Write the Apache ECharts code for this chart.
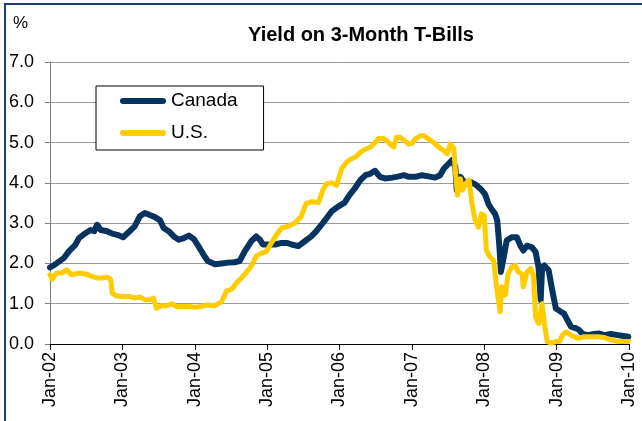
<!DOCTYPE html>
<html>
<head>
<meta charset="utf-8">
<script src="https://cdn.jsdelivr.net/npm/echarts@6/dist/echarts.min.js"></script>
<style>
  html, body { margin: 0; padding: 0; background: #fff; }
  #chart { width: 642px; height: 421px; }
</style>
</head>
<body>
<div id="chart"></div>
<script>
// x tick labels (one per January)
const xTickLabels = ["Jan-02", "Jan-03", "Jan-04", "Jan-05", "Jan-06", "Jan-07", "Jan-08", "Jan-09", "Jan-10"];

// Canada 3-month T-bill yield, dates as decimal years
const canadaDates = [
  2002.00, 2002.09, 2002.19, 2002.26, 2002.35, 2002.40, 2002.49, 2002.56, 2002.61, 2002.65,
  2002.70, 2002.79, 2002.86, 2002.93, 2003.01, 2003.10, 2003.17, 2003.24, 2003.31, 2003.38,
  2003.45, 2003.52, 2003.57, 2003.64, 2003.71, 2003.78, 2003.85, 2003.92, 2003.99, 2004.05,
  2004.12, 2004.18, 2004.28, 2004.37, 2004.46, 2004.55, 2004.62, 2004.69, 2004.78, 2004.85,
  2004.90, 2004.94, 2005.01, 2005.11, 2005.20, 2005.27, 2005.34, 2005.43, 2005.52, 2005.61,
  2005.68, 2005.75, 2005.82, 2005.89, 2005.98, 2006.07, 2006.14, 2006.21, 2006.29, 2006.36,
  2006.43, 2006.49, 2006.56, 2006.63, 2006.73, 2006.82, 2006.89, 2006.96, 2007.05, 2007.14,
  2007.23, 2007.32, 2007.39, 2007.44, 2007.51, 2007.56, 2007.60, 2007.62, 2007.67, 2007.74,
  2007.81, 2007.88, 2007.95, 2008.01, 2008.06, 2008.10, 2008.15, 2008.18, 2008.21, 2008.23,
  2008.27, 2008.31, 2008.38, 2008.45, 2008.50, 2008.54, 2008.59, 2008.66, 2008.71, 2008.75,
  2008.78, 2008.80, 2008.83, 2008.89, 2008.94, 2008.99, 2009.06, 2009.10, 2009.15, 2009.20,
  2009.27, 2009.31, 2009.36, 2009.43, 2009.52, 2009.59, 2009.66, 2009.75, 2009.85, 2009.92,
  2009.99
];
const canadaValues = [
  1.90, 2.00, 2.13, 2.30, 2.46, 2.63, 2.75, 2.83, 2.80, 2.96,
  2.83, 2.80, 2.74, 2.71, 2.65, 2.80, 2.92, 3.17, 3.25, 3.20,
  3.15, 3.07, 2.88, 2.80, 2.67, 2.59, 2.63, 2.69, 2.60, 2.43,
  2.22, 2.06, 1.98, 2.00, 2.02, 2.03, 2.06, 2.30, 2.55, 2.67,
  2.59, 2.47, 2.47, 2.47, 2.51, 2.51, 2.47, 2.43, 2.55, 2.67,
  2.80, 2.96, 3.12, 3.29, 3.41, 3.51, 3.70, 3.86, 4.07, 4.19,
  4.23, 4.30, 4.15, 4.11, 4.13, 4.16, 4.19, 4.15, 4.15, 4.19,
  4.16, 4.13, 4.19, 4.35, 4.48, 4.57, 4.39, 3.82, 4.15, 3.98,
  4.02, 3.96, 3.85, 3.72, 3.47, 3.35, 3.23, 3.06, 2.40, 1.79,
  2.16, 2.57, 2.65, 2.65, 2.44, 2.32, 2.44, 2.40, 2.28, 1.91,
  1.10, 1.91, 1.95, 1.83, 1.33, 0.88, 0.80, 0.76, 0.59, 0.43,
  0.39, 0.35, 0.25, 0.22, 0.25, 0.26, 0.22, 0.25, 0.22, 0.20,
  0.18
];

// U.S. 3-month T-bill yield
const usDates = [
  2002.00, 2002.03, 2002.09, 2002.16, 2002.23, 2002.30, 2002.40, 2002.49, 2002.58, 2002.65,
  2002.72, 2002.79, 2002.84, 2002.86, 2002.91, 2003.00, 2003.10, 2003.17, 2003.24, 2003.31,
  2003.38, 2003.43, 2003.47, 2003.54, 2003.61, 2003.68, 2003.75, 2003.85, 2003.94, 2004.00,
  2004.09, 2004.18, 2004.28, 2004.37, 2004.44, 2004.51, 2004.58, 2004.65, 2004.71, 2004.78,
  2004.85, 2004.92, 2004.99, 2005.06, 2005.13, 2005.20, 2005.29, 2005.38, 2005.47, 2005.54,
  2005.61, 2005.71, 2005.77, 2005.82, 2005.89, 2005.96, 2006.03, 2006.10, 2006.17, 2006.22,
  2006.29, 2006.36, 2006.43, 2006.49, 2006.54, 2006.61, 2006.66, 2006.70, 2006.75, 2006.79,
  2006.84, 2006.91, 2006.96, 2007.00, 2007.05, 2007.12, 2007.16, 2007.23, 2007.30, 2007.37,
  2007.44, 2007.49, 2007.53, 2007.58, 2007.60, 2007.63, 2007.67, 2007.70, 2007.74, 2007.79,
  2007.83, 2007.87, 2007.92, 2007.96, 2008.00, 2008.03, 2008.08, 2008.13, 2008.17, 2008.22,
  2008.24, 2008.29, 2008.33, 2008.38, 2008.43, 2008.47, 2008.52, 2008.54, 2008.59, 2008.64,
  2008.68, 2008.71, 2008.75, 2008.80, 2008.83, 2008.87, 2008.92, 2008.99, 2009.04, 2009.08,
  2009.13, 2009.20, 2009.29, 2009.38, 2009.47, 2009.57, 2009.66, 2009.76, 2009.85, 2009.99
];
const usValues = [
  1.72, 1.61, 1.76, 1.76, 1.84, 1.72, 1.76, 1.74, 1.68, 1.64,
  1.64, 1.66, 1.60, 1.26, 1.20, 1.18, 1.18, 1.14, 1.17, 1.10,
  1.10, 1.14, 0.89, 0.95, 0.95, 1.00, 0.93, 0.93, 0.93, 0.91,
  0.93, 0.97, 0.95, 1.05, 1.32, 1.36, 1.52, 1.65, 1.77, 1.93,
  2.18, 2.25, 2.30, 2.51, 2.71, 2.88, 2.92, 3.00, 3.16, 3.49,
  3.53, 3.51, 3.82, 3.98, 4.00, 3.94, 4.35, 4.52, 4.60, 4.64,
  4.76, 4.84, 4.89, 5.00, 5.10, 5.10, 5.03, 4.96, 4.89, 5.13,
  5.13, 5.03, 4.96, 4.98, 5.09, 5.17, 5.17, 5.09, 5.00, 4.89,
  4.80, 4.72, 4.97, 4.85, 4.31, 3.70, 4.10, 3.82, 3.98, 4.07,
  3.50, 3.10, 2.90, 3.23, 3.19, 2.32, 2.16, 2.07, 1.42, 0.80,
  1.42, 1.21, 1.74, 1.91, 1.95, 1.79, 1.74, 1.42, 1.79, 1.87,
  1.70, 0.67, 0.51, 1.00, 0.51, 0.06, 0.02, 0.06, 0.06, 0.22,
  0.30, 0.22, 0.14, 0.18, 0.18, 0.18, 0.16, 0.10, 0.06, 0.06
];

const FONT = "'Liberation Sans', Arial, sans-serif";

const chart = echarts.init(document.getElementById("chart"));

const option = {
  animation: false,
  backgroundColor: "#fff",
  textStyle: { fontFamily: FONT, color: "#000" },
  title: {
    text: "Yield on 3-Month T-Bills",
    left: 356,
    top: 20,
    textAlign: "center",
    textStyle: { fontFamily: FONT, fontSize: 20, fontWeight: "bold", color: "#000" }
  },
  graphic: [
    // outer frame (only top and left edges show in the reference)
    {
      type: "rect",
      shape: { x: 5, y: 4, width: 700, height: 500 },
      style: { fill: "none", stroke: "#1F3F74", lineWidth: 2 },
      silent: true
    },
    // unit label
    {
      type: "text",
      left: 13,
      top: 15,
      style: { text: "%", font: "17px " + FONT, fill: "#000" }
    }
  ],
  legend: {
    left: 96,
    top: 86,
    orient: "vertical",
    padding: [4, 26, 6, 24],
    itemGap: 10,
    itemWidth: 46,
    itemHeight: 6,
    // thick rounded bar, like the thick line samples
    icon: "path://M3,0 H43 A3,3 0 0 1 43,6 H3 A3,3 0 0 1 3,0 Z",
    borderColor: "#000",
    borderWidth: 1,
    backgroundColor: "#fff",
    textStyle: { fontFamily: FONT, fontSize: 19, color: "#000", lineHeight: 22 },
    data: ["Canada", "U.S."]
  },
  grid: {
    left: 50,
    right: 13,
    top: 62,
    height: 282
  },
  xAxis: {
    type: "value",
    min: 2002,
    max: 2010,
    interval: 1,
    splitLine: { show: false },
    axisLine: { lineStyle: { color: "#000", width: 1 } },
    axisTick: { length: 6, lineStyle: { color: "#000" } },
    axisLabel: {
      rotate: 90,
      margin: 8,
      fontSize: 18,
      color: "#000",
      fontFamily: FONT,
      formatter: (v) => xTickLabels[Math.round(v - 2002)]
    }
  },
  yAxis: {
    type: "value",
    min: 0,
    max: 7,
    interval: 1,
    axisLine: { show: true, lineStyle: { color: "#808080", width: 1 } },
    axisTick: { show: true, length: 5, lineStyle: { color: "#808080" } },
    splitLine: { lineStyle: { color: "#999", width: 1 } },
    axisLabel: {
      margin: 16,
      fontSize: 18,
      color: "#000",
      fontFamily: FONT,
      formatter: (v) => v.toFixed(1)
    }
  },
  series: [
    {
      name: "Canada",
      type: "line",
      showSymbol: false,
      symbol: "none",
      color: "#06335F",
      lineStyle: { width: 6, color: "#06335F", join: "round", cap: "round" },
      data: canadaDates.map((d, i) => [d, canadaValues[i]])
    },
    {
      name: "U.S.",
      type: "line",
      showSymbol: false,
      symbol: "none",
      color: "#FFCC00",
      lineStyle: { width: 5, color: "#FFCC00", join: "round", cap: "round" },
      data: usDates.map((d, i) => [d, usValues[i]])
    }
  ]
};

chart.setOption(option);
</script>
</body>
</html>
